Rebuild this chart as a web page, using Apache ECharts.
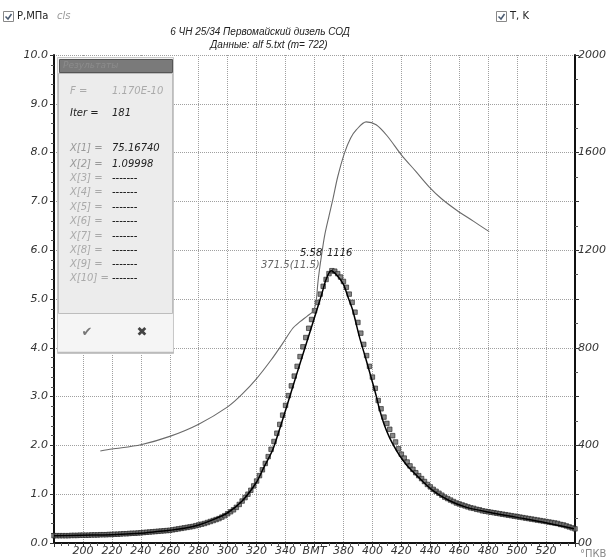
<!DOCTYPE html>
<html>
<head>
<meta charset="utf-8">
<script src="https://cdn.jsdelivr.net/npm/echarts@6/dist/echarts.min.js"></script>
<style>
  html, body { margin: 0; padding: 0; background: #fff; }
  #main { width: 609px; height: 559px; }
</style>
</head>
<body>
<div id="main"></div>
<script>
// углы, °ПКВ, для расчётной кривой давления
const modelAngles = [180, 200, 220, 240, 250, 260, 270, 280, 290, 300, 310, 320, 325, 331, 335, 340, 345, 350, 355, 360,
  365, 368, 371.5, 375, 380, 383, 386.4, 391, 395.7, 400, 402.6, 404.8, 408, 411.7, 415, 418.6, 421, 425, 432.4, 441.6,
  453, 464.6, 480.7, 499, 517.5, 539.3]
const modelP = [0.15, 0.16, 0.17, 0.2, 0.23, 0.26, 0.3, 0.37, 0.48, 0.62, 0.86, 1.25, 1.55, 1.9, 2.25, 2.72, 3.2, 3.68, 4.15, 4.62,
  5.1, 5.4, 5.58, 5.5, 5.3, 5.05, 4.77, 4.23, 3.75, 3.3, 3.02, 2.75, 2.44, 2.17, 1.98, 1.8, 1.7, 1.55, 1.33, 1.08,
  0.87, 0.735, 0.63, 0.53, 0.43, 0.29]

// измеренное давление (маркеры), шаг 2°
const measAngles = [180, 182, 184, 186, 188, 190, 192, 194, 196, 198, 200,
  202, 204, 206, 208, 210, 212, 214, 216, 218, 220,
  222, 224, 226, 228, 230, 232, 234, 236, 238, 240,
  242, 244, 246, 248, 250, 252, 254, 256, 258, 260,
  262, 264, 266, 268, 270, 272, 274, 276, 278, 280,
  282, 284, 286, 288, 290, 292, 294, 296, 298, 300,
  302, 304, 306, 308, 310, 312, 314, 316, 318, 320,
  322, 324, 326, 328, 330, 332, 334, 336, 338, 340,
  342, 344, 346, 348, 350, 352, 354, 356, 358, 360,
  362, 364, 366, 368, 370, 372, 374, 376, 378, 380,
  382, 384, 386, 388, 390, 392, 394, 396, 398, 400,
  402, 404, 406, 408, 410, 412, 414, 416, 418, 420,
  422, 424, 426, 428, 430, 432, 434, 436, 438, 440,
  442, 444, 446, 448, 450, 452, 454, 456, 458, 460,
  462, 464, 466, 468, 470, 472, 474, 476, 478, 480,
  482, 484, 486, 488, 490, 492, 494, 496, 498, 500,
  502, 504, 506, 508, 510, 512, 514, 516, 518, 520,
  522, 524, 526, 528, 530, 532, 534, 536, 538, 540]
const measP = [0.15, 0.15, 0.15, 0.15, 0.15, 0.15, 0.155, 0.155, 0.155, 0.16, 0.16,
  0.16, 0.16, 0.165, 0.165, 0.165, 0.17, 0.17, 0.17, 0.175, 0.175,
  0.18, 0.18, 0.185, 0.19, 0.19, 0.195, 0.2, 0.2, 0.205, 0.21,
  0.215, 0.22, 0.225, 0.23, 0.235, 0.24, 0.245, 0.25, 0.255, 0.26,
  0.27, 0.28, 0.29, 0.3, 0.31, 0.32, 0.33, 0.34, 0.355, 0.37,
  0.385, 0.4, 0.42, 0.44, 0.46, 0.48, 0.5, 0.53, 0.56, 0.6,
  0.64, 0.68, 0.73, 0.79, 0.86, 0.93, 1.0, 1.08, 1.17, 1.27,
  1.38, 1.5, 1.63, 1.77, 1.92, 2.08, 2.25, 2.43, 2.62, 2.82,
  3.02, 3.22, 3.42, 3.62, 3.82, 4.02, 4.21, 4.4, 4.58, 4.76,
  4.93, 5.1, 5.26, 5.4, 5.52, 5.58, 5.57, 5.52, 5.45, 5.36,
  5.24, 5.1, 4.93, 4.73, 4.52, 4.3, 4.07, 3.84, 3.62, 3.4,
  3.17, 2.92, 2.75, 2.58, 2.45, 2.33, 2.2, 2.07, 1.93, 1.82,
  1.74, 1.66, 1.58, 1.51, 1.44, 1.38, 1.32, 1.26, 1.2, 1.15,
  1.1, 1.06, 1.02, 0.98, 0.94, 0.91, 0.88, 0.85, 0.82, 0.8,
  0.78, 0.76, 0.74, 0.72, 0.71, 0.69, 0.68, 0.66, 0.65, 0.64,
  0.63, 0.62, 0.61, 0.6, 0.59, 0.58, 0.57, 0.56, 0.55, 0.54,
  0.53, 0.52, 0.51, 0.5, 0.49, 0.48, 0.47, 0.46, 0.45, 0.44,
  0.43, 0.42, 0.41, 0.4, 0.38, 0.37, 0.35, 0.33, 0.31, 0.29]

// температура, K
const tAngles = [212, 220, 240, 260, 280, 300, 310, 320, 330, 338, 345, 350, 355, 359, 361, 362.3, 363.4, 365, 367, 370,
  372.6, 376, 380.7, 385, 389, 395.7, 402.6, 410, 420, 430, 439, 448, 458, 470, 480.7]
const tValues = [377, 385, 403, 437, 487, 558, 610, 674, 750, 818, 880, 907, 930, 950, 985, 1064, 1119, 1185, 1260, 1340,
  1406, 1500, 1598, 1660, 1694, 1726, 1714, 1670, 1591, 1523, 1461, 1410, 1365, 1318, 1276]

// панель результатов
const resultLabels = ['F =', 'Iter =', 'X[1] =', 'X[2] =', 'X[3] =', 'X[4] =', 'X[5] =', 'X[6] =', 'X[7] =', 'X[8] =', 'X[9] =', 'X[10] =']
const resultValues = ['1.170E-10', '181', '75.16740', '1.09998', '-------', '-------', '-------', '-------', '-------', '-------', '-------', '-------']

const titleLines = ['6 ЧН 25/34 Первомайский дизель СОД', 'Данные: alf 5.txt (m= 722)']

const FONT = '"DejaVu Sans", Verdana, sans-serif'
const TITLE_FONT = '"Liberation Sans", Arial, sans-serif'

const pair = (xs, ys) => xs.map((x, i) => [x, ys[i]])

const rowY = [92, 114, 149, 165, 179, 193.5, 208, 222.5, 237, 251, 265.5, 279.5]
const panelText = []
resultLabels.forEach((lbl, i) => {
  const dim = i === 0 || i >= 4
  panelText.push({
    type: 'text', left: 70, top: rowY[i] - 6, z: 10,
    style: { text: lbl, font: 'italic 10px ' + FONT, fill: i === 1 ? '#222' : (dim ? '#aaa' : '#999') }
  })
  panelText.push({
    type: 'text', left: 112, top: rowY[i] - 6, z: 10,
    style: { text: resultValues[i], font: 'italic 10px ' + FONT, fill: i === 0 ? '#aaa' : '#222' }
  })
})

const chart = echarts.init(document.getElementById('main'), null, { renderer: 'canvas' })

const axisFont = { fontFamily: FONT, fontStyle: 'italic', fontSize: 11, color: '#333' }

chart.setOption({
  animation: false,
  backgroundColor: '#fff',
  grid: { left: 54, right: 33, top: 55, bottom: 16 },
  xAxis: {
    type: 'value', min: 180, max: 540, interval: 20,
    axisLine: { lineStyle: { color: '#111', width: 2 } },
    axisTick: { length: 4, lineStyle: { color: '#333' } },
    minorTick: { show: true, splitNumber: 4, length: 3, lineStyle: { color: '#555' } },
    axisLabel: {
      ...axisFont, margin: 3,
      formatter: v => (v === 360 ? 'ВМТ' : (v === 180 || v === 540 ? '' : String(v)))
    },
    splitLine: { show: true, lineStyle: { type: 'dotted', color: '#a0a0a0' } }
  },
  yAxis: [
    {
      type: 'value', min: 0, max: 10, interval: 1, position: 'left',
      axisLine: { show: true, lineStyle: { color: '#111', width: 2 } },
      axisTick: { show: true, length: 4, lineStyle: { color: '#333' } },
      minorTick: { show: true, splitNumber: 5, length: 3, lineStyle: { color: '#555' } },
      axisLabel: { ...axisFont, margin: 6, formatter: v => v.toFixed(1) },
      splitLine: { show: true, lineStyle: { type: 'dotted', color: '#a0a0a0' } }
    },
    {
      type: 'value', min: 0, max: 2000, interval: 200, position: 'right',
      axisLine: { show: true, lineStyle: { color: '#111', width: 2 } },
      axisTick: { show: true, length: 4, lineStyle: { color: '#333' } },
      minorTick: { show: true, splitNumber: 2, length: 3, lineStyle: { color: '#555' } },
      axisLabel: {
        ...axisFont, margin: 3,
        formatter: v => (v === 0 ? '00' : (v % 400 === 0 ? String(v) : ''))
      },
      splitLine: { show: false }
    }
  ],
  series: [
    {
      name: 'T, K', type: 'line', yAxisIndex: 1, data: pair(tAngles, tValues),
      showSymbol: false, smooth: 0.3,
      lineStyle: { color: '#6a6a6a', width: 1.1 }
    },
    {
      name: 'P изм', type: 'scatter', data: pair(measAngles, measP),
      symbol: 'rect', symbolSize: 4.5,
      itemStyle: { color: '#6a6a6a', borderColor: '#222', borderWidth: 0.8 }
    },
    {
      name: 'P расч', type: 'line', data: pair(modelAngles, modelP),
      showSymbol: false, smooth: 0.3, z: 5,
      lineStyle: { color: '#000', width: 1.5 }
    }
  ],
  graphic: [
    // флажки легенды
    { type: 'rect', shape: { x: 3.5, y: 11.5, width: 10, height: 10 }, style: { fill: '#fff', stroke: '#888' } },
    { type: 'polyline', shape: { points: [[5.5, 16.5], [8, 19], [11.5, 14]] }, style: { stroke: '#4a5a70', lineWidth: 1.5, fill: null } },
    { type: 'text', left: 17, top: 11, style: { text: 'P,МПа', font: '10px ' + FONT, fill: '#222' } },
    { type: 'text', left: 57, top: 11, style: { text: 'cls', font: 'italic 10px ' + FONT, fill: '#999' } },
    { type: 'rect', shape: { x: 496.5, y: 11.5, width: 10, height: 10 }, style: { fill: '#fff', stroke: '#888' } },
    { type: 'polyline', shape: { points: [[498.5, 16.5], [501, 19], [504.5, 14]] }, style: { stroke: '#4a5a70', lineWidth: 1.5, fill: null } },
    { type: 'text', left: 510, top: 11, style: { text: 'T, K', font: '10px ' + FONT, fill: '#222' } },
    // заголовок
    { type: 'text', x: 260, y: 27, style: { text: titleLines[0], font: 'italic 10px ' + TITLE_FONT, fill: '#222', textAlign: 'center' } },
    { type: 'text', x: 269, y: 40, style: { text: titleLines[1], font: 'italic 10px ' + TITLE_FONT, fill: '#222', textAlign: 'center' } },
    // подпись оси
    { type: 'text', left: 580, top: 549, style: { text: '°ПКВ', font: '10px ' + FONT, fill: '#888' } },
    // подписи у максимума
    { type: 'text', left: 300, top: 248, z: 10, style: { text: '5.58', font: 'italic 10px ' + FONT, fill: '#222' } },
    { type: 'text', left: 327, top: 248, z: 10, style: { text: '1116', font: 'italic 10px ' + FONT, fill: '#222' } },
    { type: 'text', left: 261, top: 260, z: 10, style: { text: '371.5(11.5)', font: 'italic 10px ' + FONT, fill: '#666' } },
    // панель результатов
    { type: 'rect', z: 8, shape: { x: 57.5, y: 57.5, width: 116, height: 296 }, style: { fill: '#f2f2f2', stroke: '#c8c8c8' } },
    { type: 'rect', z: 9, shape: { x: 59.5, y: 59.5, width: 113, height: 13 }, style: { fill: '#7a7a7a', stroke: '#555' } },
    { type: 'text', left: 63, top: 61, z: 10, style: { text: 'Результаты', font: 'italic 9px ' + FONT, fill: '#8c8c8c' } },
    { type: 'rect', z: 9, shape: { x: 58.5, y: 73.5, width: 114, height: 240 }, style: { fill: '#ececec', stroke: '#bdbdbd' } },
    { type: 'rect', z: 9, shape: { x: 58.5, y: 314, width: 114, height: 38 }, style: { fill: '#f5f5f5', stroke: null } },
    { type: 'line', z: 9, shape: { x1: 58, y1: 352.5, x2: 174, y2: 352.5 }, style: { stroke: '#bbb', lineWidth: 1.5 } },
    { type: 'text', x: 87, y: 333, z: 10, style: { text: '✔', font: 'bold 13px ' + FONT, fill: '#777', textAlign: 'center', textVerticalAlign: 'middle' } },
    { type: 'text', x: 142, y: 333, z: 10, style: { text: '✖', font: 'bold 13px ' + FONT, fill: '#444', textAlign: 'center', textVerticalAlign: 'middle' } },
    ...panelText
  ]
})
</script>
</body>
</html>
